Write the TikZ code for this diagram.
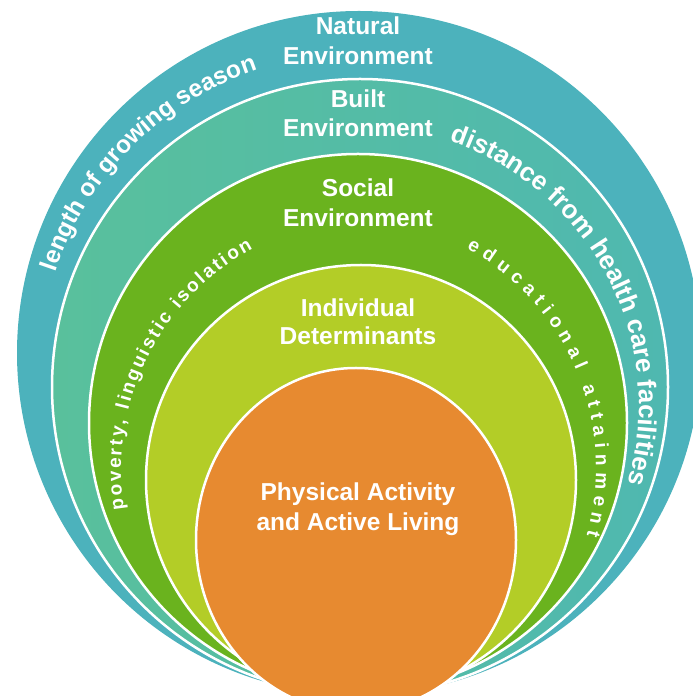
\documentclass[tikz,border=0pt]{standalone}
\usepackage{fontspec}
\setmainfont{Liberation Sans}
\usetikzlibrary{decorations.text}
\definecolor{natural}{HTML}{4CB2BC}
\definecolor{builtL}{HTML}{59C09C}
\definecolor{builtR}{HTML}{4FB8B0}
\definecolor{social}{HTML}{6AB31E}
\definecolor{individual}{HTML}{B3CD27}
\definecolor{activity}{HTML}{E78A30}

\begin{document}
\begin{tikzpicture}[x=1pt,y=1pt,
  ring/.style={draw=white, line width=2.5pt},
  heading/.style={text=white, font=\fontsize{24.5}{30}\selectfont\bfseries,
    anchor=base, inner sep=0pt},
  arctext/.style={decorate, decoration={text along path, text color=white, #1}}]
\useasboundingbox (0,0) rectangle (693,696);

\begin{scope}
  \clip (0,0) rectangle (693,696);
  % nested spheres of influence, all meeting near the bottom
  \fill[natural] (359,343) circle[radius=342];
  \shadedraw[ring, left color=builtL, right color=builtR] (360,309) circle[radius=308];
  \filldraw[ring, fill=social] (358,273) circle[radius=269];
  \filldraw[ring, fill=individual] (361,216) circle[radius=215];
  \filldraw[ring, fill=activity] (356,156) ellipse[x radius=160, y radius=172];
\end{scope}

% ring titles
\node[heading] (natA) at (358,661) {Natural};
\node[heading] (natB) at (358,631) {Environment};
\node[heading] (bltA) at (358,588) {Built};
\node[heading] (bltB) at (358,559) {Environment};
\node[heading] (socA) at (358,499) {Social};
\node[heading] (socB) at (358,469) {Environment};
\node[heading] (indA) at (358,379) {Individual};
\node[heading] (indB) at (358,351) {Determinants};
\node[heading] (actA) at (358,195) {Physical Activity};
\node[heading] (actB) at (358,165) {and Active Living};

% examples written along the rings
\path[arctext={text align=center,
  text={|\fontsize{24.5}{24.5}\selectfont\bfseries|length of growing season}}]
  (359.5,322) ++(161.5:321) arc[start angle=161.5, end angle=108.5, radius=321];

\path[arctext={text align=center,
  text={|\fontsize{26}{26}\selectfont\bfseries|distance from health care facilities}}]
  (359,290) ++(72:280) arc[start angle=72, end angle=-17, radius=280];

\path[arctext={text align=fit to path,
  text={|\fontsize{19}{19}\selectfont\bfseries|poverty, linguistic isolation}}]
  (373,226) ++(189:252) arc[start angle=189, end angle=118.5, radius=252];

\path[arctext={text align=fit to path,
  text={|\fontsize{19}{19}\selectfont\bfseries|educational attainment}}]
  (345,228) ++(61:251) arc[start angle=61, end angle=-15.5, radius=251];
\end{tikzpicture}
\end{document}
